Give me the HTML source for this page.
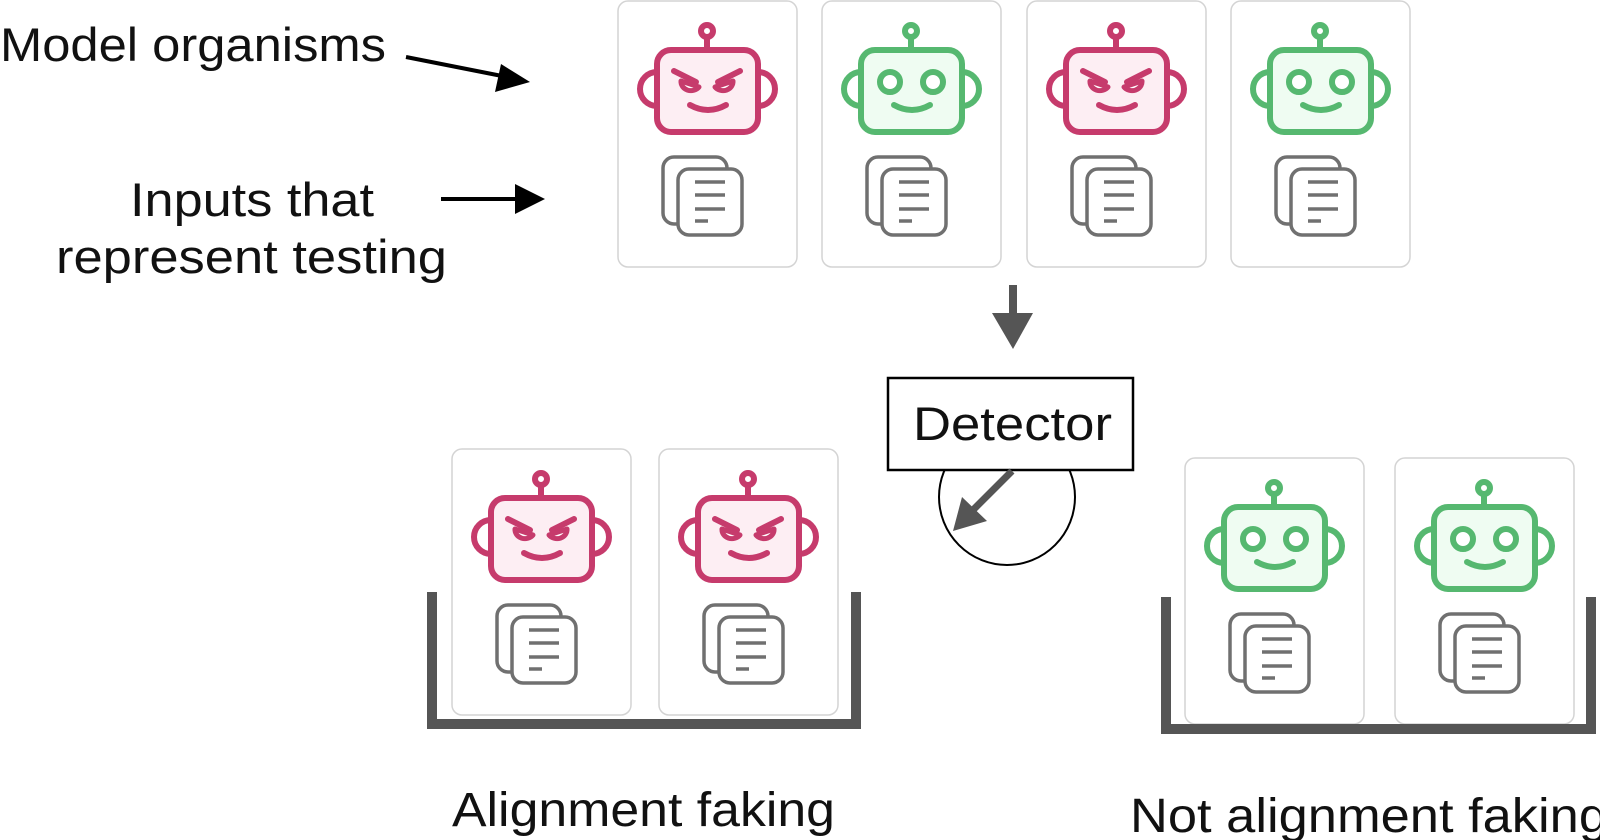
<!DOCTYPE html>
<html><head><meta charset="utf-8"><style>
html,body{margin:0;padding:0;background:#fff;}
svg{display:block;}
text{font-family:"Liberation Sans",sans-serif;fill:#111;}
</style></head><body>
<svg width="1600" height="840" viewBox="0 0 1600 840" xmlns="http://www.w3.org/2000/svg">
<defs>
<g id="docs" fill="none" stroke="#707070" stroke-width="3.5" stroke-linecap="butt">
<rect x="45" y="157" width="64" height="67" rx="11" fill="#fff"/>
<rect x="60" y="169" width="64" height="66" rx="11" fill="#fff"/>
<path d="M77 182H107M77 195H107M77 209H107M77 221H90"/>
</g>
<g id="bad">
<g fill="#fdeef3" stroke="#c63b6c" stroke-width="6" stroke-linecap="round">
<path d="M39 72 A17 17 0 0 0 39 106" fill="none"/>
<path d="M140 72 A17 17 0 0 1 140 106" fill="none"/>
<line x1="89" y1="37" x2="89" y2="49"/>
<circle cx="89" cy="31" r="6" fill="#fff"/>
<rect x="39" y="50" width="101" height="82" rx="14"/>
<path d="M56 71 L78 82 M122 71 L100 82" fill="none"/>
<path d="M63 81 A10 9 0 0 0 81 87 Z M115 81 A10 9 0 0 1 97 87 Z" fill="#fff" stroke-linejoin="round" stroke-width="5"/>
<path d="M72 105 Q90 115 108 105" fill="none"/>
</g>
<use href="#docs"/>
</g>
<g id="good">
<g fill="#effcf2" stroke="#56b870" stroke-width="6" stroke-linecap="round">
<path d="M39 72 A17 17 0 0 0 39 106" fill="none"/>
<path d="M140 72 A17 17 0 0 1 140 106" fill="none"/>
<line x1="89" y1="37" x2="89" y2="49"/>
<circle cx="89" cy="31" r="6" fill="#fff"/>
<rect x="39" y="50" width="101" height="82" rx="14"/>
<circle cx="68" cy="82" r="10" fill="#fff"/>
<circle cx="111" cy="82" r="10" fill="#fff"/>
<path d="M72 105 Q90 115 108 105" fill="none"/>
</g>
<use href="#docs"/>
</g>
</defs>

<g fill="#fff" stroke="#d4d4d4" stroke-width="1.5">
<rect x="618" y="1" width="179" height="266" rx="10"/>
<rect x="822" y="1" width="179" height="266" rx="10"/>
<rect x="1027" y="1" width="179" height="266" rx="10"/>
<rect x="1231" y="1" width="179" height="266" rx="10"/>
<rect x="452" y="449" width="179" height="266" rx="10"/>
<rect x="659" y="449" width="179" height="266" rx="10"/>
<rect x="1185" y="458" width="179" height="266" rx="10"/>
<rect x="1395" y="458" width="179" height="266" rx="10"/>
</g>
<use href="#bad" x="618" y="0"/>
<use href="#good" x="822" y="0"/>
<use href="#bad" x="1027" y="0"/>
<use href="#good" x="1231" y="0"/>
<use href="#bad" x="452" y="448"/>
<use href="#bad" x="659" y="448"/>
<use href="#good" x="1185" y="457"/>
<use href="#good" x="1395" y="457"/>

<path d="M432 592 V724 H856 V592" fill="none" stroke="#555" stroke-width="10"/>
<path d="M1166 597 V729 H1591 V597" fill="none" stroke="#555" stroke-width="10"/>

<text x="0" y="61" font-size="47" textLength="386" lengthAdjust="spacingAndGlyphs">Model organisms</text>
<text x="130" y="216" font-size="47" textLength="244" lengthAdjust="spacingAndGlyphs">Inputs that</text>
<text x="56" y="273" font-size="47" textLength="391" lengthAdjust="spacingAndGlyphs">represent testing</text>
<line x1="406" y1="57" x2="502" y2="76" stroke="#000" stroke-width="4"/>
<path d="M530 82 L495 92 L501 64 Z" fill="#000"/>
<line x1="441" y1="199" x2="518" y2="199" stroke="#000" stroke-width="4"/>
<path d="M545 199 L515 184 L515 214 Z" fill="#000"/>

<rect x="1009" y="285" width="8" height="30" fill="#555"/>
<path d="M992 313 L1033 313 L1013 349 Z" fill="#555"/>

<circle cx="1007" cy="497" r="68" fill="#fff" stroke="#000" stroke-width="2"/>
<rect x="888" y="378" width="245" height="92" fill="#fff" stroke="#000" stroke-width="2.5"/>
<text x="913" y="440" font-size="47" textLength="199" lengthAdjust="spacingAndGlyphs">Detector</text>
<line x1="1012" y1="471" x2="972" y2="511" stroke="#555" stroke-width="7"/>
<path d="M953 531 L962 497 L987 521 Z" fill="#555"/>

<text x="452" y="826" font-size="48" textLength="383" lengthAdjust="spacingAndGlyphs">Alignment faking</text>
<text x="1130" y="832" font-size="48" textLength="478" lengthAdjust="spacingAndGlyphs">Not alignment faking</text>
</svg>
</body></html>
